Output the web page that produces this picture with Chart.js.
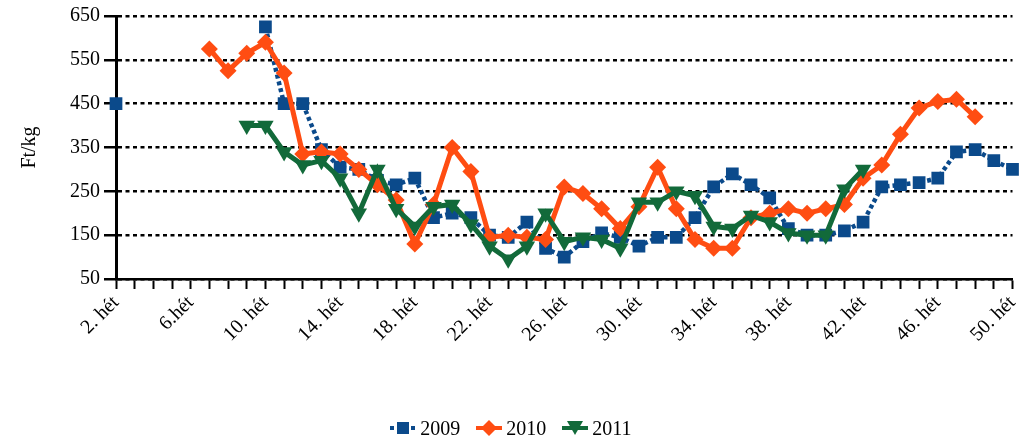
<!DOCTYPE html>
<html>
<head>
<meta charset="utf-8">
<script src="https://cdn.jsdelivr.net/npm/chart.js@4"></script>
<style>
  html, body { margin: 0; padding: 0; background: #fff; }
  #wrap { position: relative; width: 1022px; height: 441px; }
  #legend {
    position: absolute; left: 0; right: 0; top: 416px; height: 24px;
    display: flex; justify-content: center; align-items: center;
    font-family: "Liberation Serif", serif; font-size: 20px; color: #000;
  }
  .item { display: flex; align-items: center; margin: 0 8px; }
  .item svg { margin-right: 4px; }
</style>
</head>
<body>
<div id="wrap">
  <canvas id="chart" width="1022" height="441"></canvas>
  <div id="legend"></div>
</div>
<script>
// categories (weeks)
const weeks = [
  '2. hét', '3. hét', '4. hét', '5. hét', '6.hét', '7. hét', '8. hét', '9. hét',
  '10. hét', '11. hét', '12. hét', '13. hét', '14. hét', '15. hét', '16. hét', '17. hét',
  '18. hét', '19. hét', '20. hét', '21. hét', '22. hét', '23. hét', '24. hét', '25. hét',
  '26. hét', '27. hét', '28. hét', '29. hét', '30. hét', '31. hét', '32. hét', '33. hét',
  '34. hét', '35. hét', '36. hét', '37. hét', '38. hét', '39. hét', '40. hét', '41. hét',
  '42. hét', '43. hét', '44. hét', '45. hét', '46. hét', '47. hét', '48. hét', '49. hét',
  '50. hét'
];

// labels shown on the x axis
const xTickLabels = ['2. hét', '6.hét', '10. hét', '14. hét', '18. hét', '22. hét', '26. hét',
  '30. hét', '34. hét', '38. hét', '42. hét', '46. hét', '50. hét'];

// labels shown on the y axis
const yTickLabels = [50, 150, 250, 350, 450, 550, 650];

// series values, Ft/kg
const y2009 = [450, null, null, null, null, null, null, null,
  625, 450, 450, 345, 305, 300, 275, 265, 280, 190, 200, 190, 150, 145, 180, 120,
  100, 135, 155, 145, 125, 145, 145, 190, 260, 290, 265, 235, 165, 150, 150, 160,
  180, 260, 265, 270, 280, 340, 345, 320, 300];

const y2010 = [null, null, null, null, null,
  575, 525, 565, 590, 520, 335, 340, 335, 300, 265, 230, 130, 220, 350, 295, 145,
  150, 145, 140, 260, 245, 210, 165, 215, 305, 210, 140, 120, 120, 190, 200, 210,
  200, 210, 220, 280, 310, 380, 440, 455, 460, 420, null, null];

const y2011 = [null, null, null, null, null, null, null,
  400, 400, 340, 310, 320, 280, 200, 300, 210, 170, 215, 220, 175, 125, 95, 125,
  200, 135, 145, 140, 120, 225, 225, 250, 240, 170, 165, 195, 180, 155, 150, 150,
  255, 300, null, null, null, null, null, null, null, null];

const blue = '#0b4a8b';
const orange = '#ff4d12';
const green = '#126a3a';

Chart.defaults.color = '#000';
Chart.defaults.font.family = '"Liberation Serif", serif';
Chart.defaults.font.size = 20;

const config = {
  type: 'line',
  data: {
    labels: weeks,
    datasets: [
      {
        label: '2009', data: y2009, order: 3,
        borderColor: blue, backgroundColor: blue, borderWidth: 4.5, borderDash: [4, 3],
        pointStyle: 'rect', pointRadius: 9, pointBorderWidth: 0,
        pointBackgroundColor: blue, tension: 0
      },
      {
        label: '2010', data: y2010, order: 2,
        borderColor: orange, backgroundColor: orange, borderWidth: 5,
        pointStyle: 'rectRot', pointRadius: 8.5, pointBorderWidth: 0,
        pointBackgroundColor: orange, tension: 0
      },
      {
        label: '2011', data: y2011, order: 1,
        borderColor: green, backgroundColor: green, borderWidth: 5,
        pointStyle: 'triangle', pointRotation: 180, pointRadius: 9.5, pointBorderWidth: 0,
        pointBackgroundColor: green, tension: 0
      }
    ]
  },
  options: {
    responsive: false,
    animation: false,
    layout: { padding: { top: 15, right: 9, bottom: 52, left: 0 } },
    plugins: {
      legend: { display: false },
      tooltip: { enabled: false }
    },
    scales: {
      x: {
        offset: false,
        grid: {
          display: true, drawOnChartArea: false, drawTicks: true, offset: false,
          tickLength: 10, tickColor: '#000', tickWidth: 2
        },
        border: { display: true, color: '#000', width: 2.5 },
        ticks: {
          autoSkip: false, minRotation: 45, maxRotation: 45, padding: 2,
          callback: function (val, i) {
            const lab = weeks[i];
            return xTickLabels.includes(lab) ? lab : '';
          }
        },
        afterFit: function (scale) {
          scale.height = 110;
          scale.paddingLeft = 0;
          scale.paddingRight = 0;
        }
      },
      y: {
        min: 50, max: 650,
        grid: {
          color: '#000', lineWidth: 2.5, drawTicks: true,
          tickLength: 12, tickColor: '#000', tickWidth: 2.5
        },
        border: { display: true, color: '#000', width: 3, dash: [4, 3.5] },
        ticks: {
          stepSize: 50, padding: 4,
          callback: function (v) { return yTickLabels.includes(v) ? v : ''; }
        },
        title: {
          display: true, text: 'Ft/kg', color: '#000',
          font: { size: 20 }, padding: { top: 18, bottom: 0 }
        },
        afterFit: function (scale) { scale.width = 116; }
      }
    }
  }
};

const myChart = new Chart(document.getElementById('chart'), config);

// html legend: short line with the marker on it, then the year
const legendShapes = {
  '2009': '<line x1="0" y1="8" x2="26" y2="8" stroke="' + blue + '" stroke-width="4" stroke-dasharray="4 3"/>' +
          '<rect x="7" y="2" width="12" height="12" fill="' + blue + '"/>',
  '2010': '<line x1="0" y1="8" x2="26" y2="8" stroke="' + orange + '" stroke-width="4"/>' +
          '<polygon points="13,0 21,8 13,16 5,8" fill="' + orange + '"/>',
  '2011': '<line x1="0" y1="8" x2="26" y2="8" stroke="' + green + '" stroke-width="4"/>' +
          '<polygon points="5,1 21,1 13,15" fill="' + green + '"/>'
};
const legend = document.getElementById('legend');
config.data.datasets.forEach(ds => {
  const item = document.createElement('div');
  item.className = 'item';
  item.innerHTML = '<svg width="26" height="16">' + legendShapes[ds.label] + '</svg><span>' + ds.label + '</span>';
  legend.appendChild(item);
});
</script>
</body>
</html>
